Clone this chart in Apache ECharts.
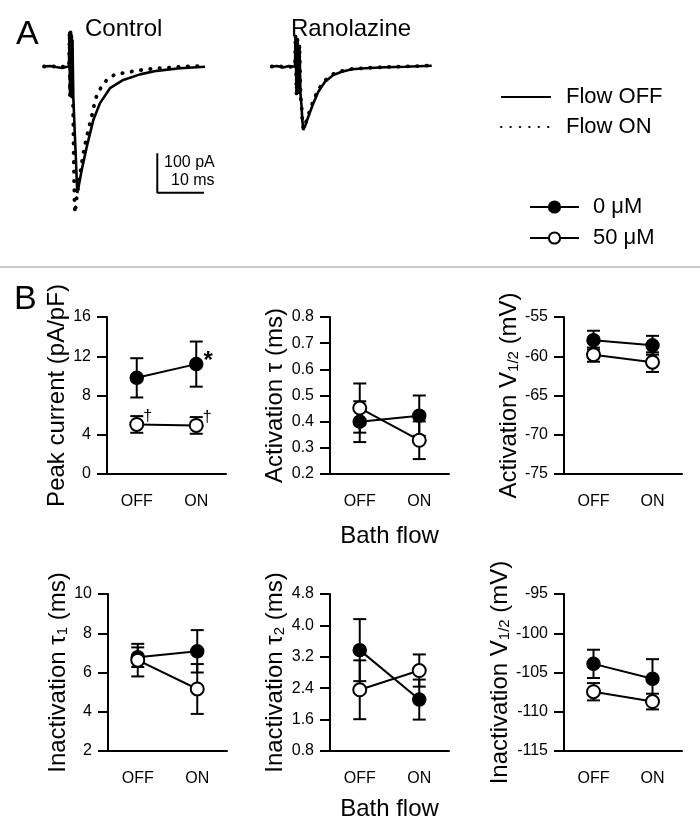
<!DOCTYPE html>
<html><head><meta charset="utf-8">
<script src="https://cdn.jsdelivr.net/npm/echarts@6/dist/echarts.min.js"></script>
<style>html,body{margin:0;padding:0;background:#fff}#c{width:700px;height:838px}</style>
</head><body><div id="c"></div>
<script>
const FONT = '"Liberation Sans", Arial, Helvetica, sans-serif';

// ---------- Panel A: current traces, [time (ms), current (pA)] ----------
const controlOff = [[9.42,0],[10.71,1.3],[11.99,-1.3],[13.28,-3.8],[14.13,-1.3],[14.78,0],[14.88,87.6],[14.99,-74.9],[15.10,87.6],[15.20,-74.9],[15.31,82.5],[15.42,-74.9],[15.52,67.3],[15.70,-77.4],[15.95,-151],[16.17,-212],[16.38,-273],[16.55,-321],[17.02,-293],[17.49,-263],[18.57,-204],[19.98,-136],[21.41,-93],[23.55,-55],[26.40,-34],[29.98,-20],[33.55,-11],[38.54,-4.6],[43.90,-0.5]];
const controlOn = [[9.42,0],[11.0,0.5],[12.6,-1],[14.13,0],[14.78,0],[14.88,87.6],[14.99,-74.9],[15.10,87.6],[15.20,-74.9],[15.31,82.5],[15.42,-74.9],[15.63,-85],[15.74,-186],[15.85,-275],[15.95,-339],[16.06,-372],[16.49,-326],[17.13,-275],[17.77,-225],[18.42,-186],[18.91,-161],[19.98,-110],[20.34,-85],[21.26,-60],[22.85,-34],[24.63,-20],[26.77,-16],[28.91,-11],[31.41,-7],[33.90,-4.6],[36.04,-3],[38.54,-0.5],[42.83,1.3],[43.90,1.3]];
const ranoOff = [[58.18,-0.5],[59.31,1.3],[60.60,-2.5],[61.88,1.3],[63.17,-0.5],[63.28,79.9],[63.49,-72.3],[63.70,72.3],[63.92,-67.3],[64.13,54.6],[64.35,-72.3],[64.56,-97.7],[64.73,-135.8],[64.95,-161.2],[65.42,-148.5],[66.02,-127.4],[67.09,-93.4],[68.16,-64.0],[69.59,-38.6],[71.37,-21.6],[73.17,-13.2],[75.31,-7.1],[78.16,-4.6],[82.44,-2.0],[86.72,-0.5],[92.44,2.0]];
const ranoOn = [[58.18,0],[59.8,0.5],[61.4,-1.5],[63.17,0],[63.28,79.9],[63.49,-72.3],[63.70,72.3],[63.92,-67.3],[64.13,54.6],[64.35,-72.3],[64.56,-97.7],[64.73,-133],[64.95,-158.6],[65.42,-145],[66.02,-123.1],[67.09,-87.6],[68.16,-58.4],[69.59,-35.5],[71.37,-19.0],[73.17,-11.4],[75.31,-6.3],[78.16,-3.8],[82.44,-1.3],[86.72,0],[92.44,2.5]];
const scaleBar = [[33.68,-220.3],[33.68,-320.3],[43.68,-320.3]]; // 100 pA, 10 ms

// ---------- Panel B: summary data ----------
const flowCats = ['OFF', 'ON'];
const peak0 = [9.8, 11.2],   peak0Err = [2.0, 2.3];
const peak50 = [5.05, 4.95], peak50Err = [0.85, 0.85];
const peakMarks0 = ['', '*'], peakMarks50 = ['†', '†'];
const actTau0 = [0.40, 0.423],  actTau0Err = [0.078, 0.077];
const actTau50 = [0.452, 0.329], actTau50Err = [0.094, 0.072];
const actV0 = [-57.95, -58.6],  actV0Err = [1.2, 1.2];
const actV50 = [-59.8, -60.75], actV50Err = [0.9, 1.25];
const inTau1_0 = [6.78, 7.08],  inTau1_0Err = [0.5, 1.08];
const inTau1_50 = [6.63, 5.16], inTau1_50Err = [0.83, 1.27];
const inTau2_0 = [3.37, 2.11],  inTau2_0Err = [0.79, 0.51];
const inTau2_50 = [2.36, 2.85], inTau2_50Err = [0.75, 0.41];
const inV0 = [-103.9, -105.8],  inV0Err = [1.8, 2.5];
const inV50 = [-107.45, -108.7], inV50Err = [1.1, 1.0];

const peakTicks = ['0', '4', '8', '12', '16'];
const actTauTicks = ['0.2', '0.3', '0.4', '0.5', '0.6', '0.7', '0.8'];
const actVTicks = ['-75', '-70', '-65', '-60', '-55'];
const inTau1Ticks = ['2', '4', '6', '8', '10'];
const inTau2Ticks = ['0.8', '1.6', '2.4', '3.2', '4.0', '4.8'];
const inVTicks = ['-115', '-110', '-105', '-100', '-95'];

const panels = [
  {yName: 'Peak current (pA/pF)', v0: peak0, e0: peak0Err, v50: peak50, e50: peak50Err, ticks: peakTicks, m0: peakMarks0, m50: peakMarks50},
  {yName: 'Activation τ (ms)', v0: actTau0, e0: actTau0Err, v50: actTau50, e50: actTau50Err, ticks: actTauTicks, xName: 'Bath flow'},
  {yName: 'Activation V{s|1/2} (mV)', v0: actV0, e0: actV0Err, v50: actV50, e50: actV50Err, ticks: actVTicks},
  {yName: 'Inactivation τ{s|1} (ms)', v0: inTau1_0, e0: inTau1_0Err, v50: inTau1_50, e50: inTau1_50Err, ticks: inTau1Ticks},
  {yName: 'Inactivation τ{s|2} (ms)', v0: inTau2_0, e0: inTau2_0Err, v50: inTau2_50, e50: inTau2_50Err, ticks: inTau2Ticks, xName: 'Bath flow'},
  {yName: 'Inactivation V{s|1/2} (mV)', v0: inV0, e0: inV0Err, v50: inV50, e50: inV50Err, ticks: inVTicks}
];

// ---------- layout ----------
const gridBoxes = [
  {left: 0, top: 27.1, width: 467, height: 236.4},
  {left: 107, top: 317, width: 119, height: 157},
  {left: 330, top: 317, width: 119, height: 157},
  {left: 564, top: 317, width: 118, height: 157},
  {left: 108, top: 594, width: 119, height: 157},
  {left: 330, top: 594, width: 119, height: 157},
  {left: 564, top: 594, width: 118, height: 157}
];
const xNameGaps = [0, 50, 50, 50, 46, 46, 46];

const chart = echarts.init(document.getElementById('c'), null, {renderer: 'canvas'});

const grid = gridBoxes.map(b => Object.assign({containLabel: false}, b));
const xAxis = [{gridIndex: 0, type: 'value', min: 0, max: 100, show: false}];
const yAxis = [{gridIndex: 0, type: 'value', min: -500, max: 100, show: false}];
const series = [];

function traceSeries(name, data, dotted) {
  return {
    type: 'line', name: name, xAxisIndex: 0, yAxisIndex: 0, data: data,
    symbol: 'none', silent: true, z: dotted ? 3 : 2,
    lineStyle: dotted ? {color: '#000', width: 3.8, type: [0.4, 9], cap: 'round'} : {color: '#000', width: 2.6}
  };
}
series.push(traceSeries('Flow OFF', controlOff, false));
series.push(traceSeries('Flow ON', controlOn, true));
series.push(traceSeries('Flow OFF', ranoOff, false));
series.push(traceSeries('Flow ON', ranoOn, true));
series.push({type: 'line', name: 'scale', xAxisIndex: 0, yAxisIndex: 0, data: scaleBar, symbol: 'none', silent: true,
  lineStyle: {color: '#000', width: 2}});

function errRender(params, api) {
  const x = api.value(0), lo = api.value(1), hi = api.value(2);
  const a = api.coord([x, hi]), b = api.coord([x, lo]);
  const w = 6.5;
  const st = {stroke: '#000', lineWidth: 2};
  return {type: 'group', children: [
    {type: 'line', shape: {x1: a[0], y1: a[1], x2: b[0], y2: b[1]}, style: st},
    {type: 'line', shape: {x1: a[0] - w, y1: a[1], x2: a[0] + w, y2: a[1]}, style: st},
    {type: 'line', shape: {x1: b[0] - w, y1: b[1], x2: b[0] + w, y2: b[1]}, style: st}
  ]};
}

function lineData(vals, marks) {
  return vals.map((v, i) => {
    if (marks && marks[i]) {
      const star = marks[i] === '*';
      return {value: v, label: {show: true, formatter: marks[i], position: 'right', distance: star ? 0 : -1,
        offset: star ? [0, -3] : [0, -8], fontSize: star ? 24 : 16, fontWeight: star ? 'bold' : 'normal',
        fontFamily: FONT, color: '#000'}};
    }
    return v;
  });
}

panels.forEach((p, k) => {
  const gi = k + 1;
  const tv = p.ticks.map(Number);
  const dec = (p.ticks[0].split('.')[1] || '').length;
  const interval = +(tv[1] - tv[0]).toFixed(6);
  xAxis.push({
    gridIndex: gi, type: 'category', data: flowCats, boundaryGap: true,
    axisLine: {lineStyle: {color: '#000', width: 2}},
    axisTick: {alignWithLabel: true, length: 10, lineStyle: {color: '#000', width: 2}},
    axisLabel: {color: '#000', fontSize: 16, fontFamily: FONT, margin: 20},
    name: p.xName || '', nameLocation: 'middle', nameGap: xNameGaps[gi],
    nameTextStyle: {color: '#000', fontSize: 24, fontFamily: FONT}
  });
  yAxis.push({
    gridIndex: gi, type: 'value', min: tv[0], max: tv[tv.length - 1], interval: interval,
    axisLine: {show: true, lineStyle: {color: '#000', width: 2}},
    axisTick: {show: true, length: 10, lineStyle: {color: '#000', width: 2}},
    axisLabel: {color: '#000', fontSize: 16, fontFamily: FONT, margin: 16, formatter: v => v.toFixed(dec)},
    splitLine: {show: false},
    name: p.yName, nameLocation: 'middle', nameGap: 37,
    nameTextStyle: {color: '#000', fontSize: 24, fontFamily: FONT,
      rich: {s: {fontSize: 15, fontFamily: FONT, color: '#000', verticalAlign: 'bottom'}}}
  });
  const errData0 = p.v0.map((v, i) => [i, v - p.e0[i], v + p.e0[i]]);
  const errData50 = p.v50.map((v, i) => [i, v - p.e50[i], v + p.e50[i]]);
  series.push({type: 'custom', xAxisIndex: gi, yAxisIndex: gi, data: errData0, renderItem: errRender, z: 2, silent: true, encode: {x: 0, y: [1, 2]}});
  series.push({type: 'custom', xAxisIndex: gi, yAxisIndex: gi, data: errData50, renderItem: errRender, z: 2, silent: true, encode: {x: 0, y: [1, 2]}});
  series.push({type: 'line', name: '0 μM', xAxisIndex: gi, yAxisIndex: gi, data: lineData(p.v0, p.m0),
    symbol: 'circle', symbolSize: 13, showSymbol: true, z: 3, silent: true,
    itemStyle: {color: '#000', borderColor: '#000', borderWidth: 1.5},
    lineStyle: {color: '#000', width: 2}});
  series.push({type: 'line', name: '50 μM', xAxisIndex: gi, yAxisIndex: gi, data: lineData(p.v50, p.m50),
    symbol: 'circle', symbolSize: 13, showSymbol: true, z: 4, silent: true,
    itemStyle: {color: '#fff', borderColor: '#000', borderWidth: 2},
    lineStyle: {color: '#000', width: 2}});
});

const option = {
  animation: false,
  backgroundColor: '#fff',
  textStyle: {fontFamily: FONT},
  grid: grid, xAxis: xAxis, yAxis: yAxis, series: series,
  legend: [
    {left: 500, top: 86, orient: 'vertical', padding: 0, itemWidth: 50, itemHeight: 14, itemGap: 8,
     selectedMode: false,
     data: [{name: 'Flow OFF', itemStyle: {opacity: 0}}, {name: 'Flow ON', itemStyle: {opacity: 0}}],
     textStyle: {color: '#000', fontSize: 22, fontFamily: FONT, padding: [0, 0, 0, 10], lineHeight: 14}},
    {left: 529, top: 196, orient: 'vertical', padding: 0, itemWidth: 49, itemHeight: 14, itemGap: 9,
     selectedMode: false, data: ['0 μM', '50 μM'],
     textStyle: {color: '#000', fontSize: 22, fontFamily: FONT, padding: [0, 0, 0, 9], lineHeight: 14}}
  ],
  graphic: [
    {type: 'line', shape: {x1: 0, y1: 267, x2: 700, y2: 267}, style: {stroke: '#999', lineWidth: 1}},
    {type: 'text', x: 16, y: 35, style: {text: 'A', fontSize: 34, fontFamily: FONT, fill: '#000', verticalAlign: 'middle'}},
    {type: 'text', x: 14, y: 300, style: {text: 'B', fontSize: 34, fontFamily: FONT, fill: '#000', verticalAlign: 'middle'}},
    {type: 'text', x: 85, y: 29, style: {text: 'Control', fontSize: 24, fontFamily: FONT, fill: '#000', verticalAlign: 'middle'}},
    {type: 'text', x: 291, y: 29, style: {text: 'Ranolazine', fontSize: 24, fontFamily: FONT, fill: '#000', verticalAlign: 'middle'}},
    {type: 'text', x: 164, y: 163, style: {text: '100 pA', fontSize: 16, fontFamily: FONT, fill: '#000', verticalAlign: 'middle'}},
    {type: 'text', x: 171, y: 181, style: {text: '10 ms', fontSize: 16, fontFamily: FONT, fill: '#000', verticalAlign: 'middle'}}
  ]
};
chart.setOption(option);
</script></body></html>
